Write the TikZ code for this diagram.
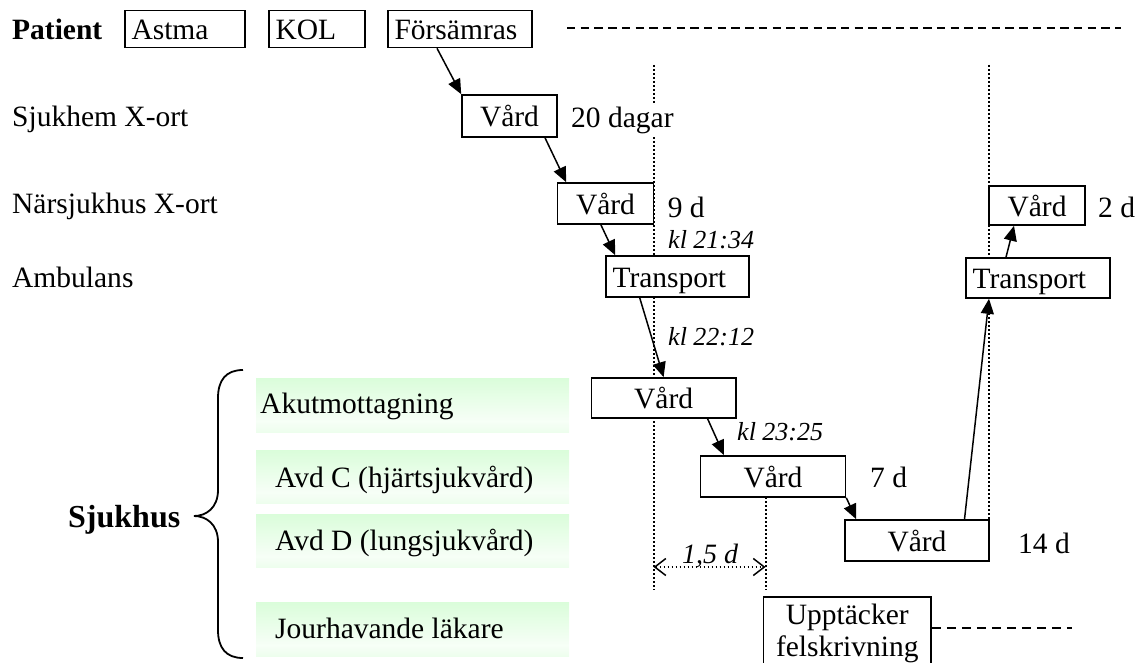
\documentclass[tikz,border=0pt]{standalone}
\usepackage{fontspec}
\setmainfont{Liberation Serif}
\usetikzlibrary{arrows.meta}
\definecolor{pgreen}{RGB}{200,252,200}
\pgfdeclareverticalshading{gbox}{100bp}{color(0bp)=(pgreen!75!white); color(35bp)=(pgreen!15!white); color(100bp)=(pgreen)}
\begin{document}
\begin{tikzpicture}[x=1pt,y=-1pt,
  fnt/.style={font=\fontsize{29.5}{34}\selectfont},
  txt/.style={fnt, inner sep=0pt, anchor=base west},
  itxt/.style={font=\fontsize{26}{30}\selectfont\itshape, inner sep=0pt, anchor=base west},
  bx/.style={draw, line width=1.6pt, fnt, inner ysep=0pt, text height=21.75pt, text depth=0pt},
  lbx/.style 2 args={bx, text width=#1, align=left, inner xsep=6.5pt, minimum height=#2},
  cbx/.style 2 args={bx, inner xsep=0pt, minimum width=#1, minimum height=#2},
  green/.style={shading=gbox, draw=none},
  arr/.style={line width=1.5pt, -{Triangle[length=15pt,width=13pt]}},
  dotl/.style={line width=2pt, dash pattern=on 1.8pt off 2.2pt},
  dashl/.style={line width=1.3pt, dash pattern=on 8.4pt off 5.3pt},
]
\useasboundingbox (0,0) rectangle (1142,663);

% green band backgrounds
\path[green] (256,378) rectangle (569,432);
\path[green] (256,450) rectangle (569,503);
\path[green] (256,514) rectangle (569,567);
\path[green] (256,602) rectangle (569,656);

% row labels
\node[txt, font=\fontsize{29.5}{34}\selectfont\bfseries] (patient) at (12,40) {Patient};
\node[txt] (sjukhem) at (12,127) {Sjukhem X-ort};
\node[txt] (narsj) at (12,213) {Närsjukhus X-ort};
\node[txt] (ambul) at (12,287) {Ambulans};
\node[txt] (akut) at (260,413) {Akutmottagning};
\node[txt] (avdc) at (275,487) {Avd C (hjärtsjukvård)};
\node[txt] (avdd) at (275,550) {Avd D (lungsjukvård)};
\node[txt] (jour) at (275,638) {Jourhavande läkare};
\node[txt, font=\fontsize{32}{36}\selectfont\bfseries] (sjukhus) at (68,527) {Sjukhus};

% brace
\draw[line width=1.8pt] (243,370) .. controls (226,370) and (218,380) .. (218,398) -- (218,490)
  .. controls (218,508) and (206,516) .. (194,516)
  .. controls (206,516) and (218,524) .. (218,542) -- (218,630)
  .. controls (218,648) and (226,658) .. (243,658);

% dotted time lines
\coordinate (l1t) at (653.6,65);  \coordinate (l1b) at (653.6,590);
\coordinate (l2t) at (989,65);    \coordinate (l2b) at (989,520);
\coordinate (l3t) at (765.5,497); \coordinate (l3b) at (765.5,590);
\draw[dotl] (l1t) -- (l1b);
\draw[dotl] (l2t) -- (l2b);
\draw[dotl] (l3t) -- (l3b);

% patient boxes
\node[lbx={107pt}{37pt}] (astma) at (185,29) {Astma};
\node[lbx={83pt}{37pt}] (kol) at (317,29) {KOL};
\node[lbx={131pt}{37pt}] (forsam) at (460,29) {Försämras};
\coordinate (dt1) at (567,28); \coordinate (dt2) at (1121,28);
\draw[dashl] (dt1) -- (dt2);

% care boxes
\node[cbx={95pt}{42pt}, fill=white] (v1) at (509.5,116) {Vård};
\node[cbx={96pt}{41pt}, fill=white] (v2) at (605.5,203.5) {Vård};
\node[lbx={130pt}{41pt}, fill=white] (t1) at (677.5,276.5) {Transport};
\node[cbx={144.4pt}{40pt}, fill=white] (v3) at (663.6,398) {Vård};
\node[cbx={145pt}{41pt}, fill=white] (v4) at (773,476.5) {Vård};
\node[cbx={144pt}{41pt}, fill=white] (v5) at (917,540.5) {Vård};
\node[lbx={131pt}{40pt}, fill=white] (t2) at (1038,278) {Transport};
\node[cbx={96pt}{39pt}, fill=white] (v6) at (1037,205.5) {Vård};

\node[draw, line width=1.6pt, font=\fontsize{29.5}{32}\selectfont, align=center, anchor=north,
      inner xsep=0pt, inner ysep=7pt, minimum width=167.4pt, fill=white] (up) at (847.3,596) {Upptäcker\\felskrivning};
\coordinate (db2) at (1072,628);
\draw[line width=1.3pt, dash pattern=on 9pt off 6pt] (up.east |- db2) -- (db2);

% durations and times
\node[txt, fill=white, inner xsep=1pt, inner ysep=3pt] (d20) at (570,128) {20 dagar};
\node[txt] (d9) at (667.6,217) {9 d};
\node[txt] (d7) at (870,487) {7 d};
\node[txt] (d14) at (1018,553) {14 d};
\node[txt] (d2) at (1098,217) {2 d};
\node[itxt] (k1) at (668,248) {kl 21:34};
\node[itxt] (k2) at (668,345) {kl 22:12};
\node[itxt] (k3) at (737,440) {kl 23:25};

% 1,5 d dimension
\coordinate (dm1) at (653.6,567); \coordinate (dm2) at (765.5,567);
\draw[dotl, line width=1.5pt, {Straight Barb[length=11pt,width=17pt,line width=1.5pt]}-{Straight Barb[length=11pt,width=17pt,line width=1.5pt]}] (dm1) -- (dm2);
\node[itxt, font=\fontsize{28}{32}\selectfont\itshape] (d15) at (682,563) {1,5 d};

% connectors
\draw[arr] ([xshift=-23pt]forsam.south) -- (v1.north west);
\draw[arr] ([xshift=35.5pt]v1.south) -- ([xshift=9.5pt]v2.north west);
\draw[arr] ([xshift=-4.6pt]v2.south) -- ([xshift=10pt]t1.north west);
\draw[arr] ([xshift=-37.8pt]t1.south) -- (v3.north);
\draw[arr] ([xshift=44pt]v3.south) -- ([xshift=24.3pt]v4.north west);
\draw[arr] (v4.south east) -- ([xshift=12pt]v5.north west);
\draw[arr] ([xshift=47.5pt]v5.north) -- ([xshift=-49pt]t2.south);
\draw[arr] ([xshift=-32pt]t2.north) -- ([xshift=-23pt]v6.south);
\end{tikzpicture}
\end{document}
